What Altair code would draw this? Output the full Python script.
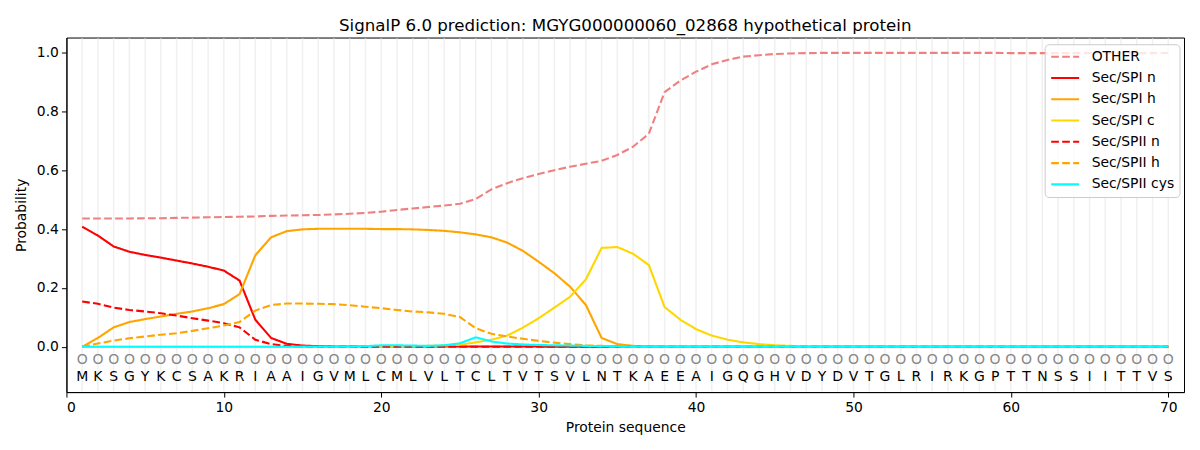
import altair as alt
import pandas as pd

sequence = list("MKSGYKCSAKRIAAIGVMLCMLVLTCLTVTSVLNTKAEEAIGQGHVDYDVTGLRIRKGPTTNSSIITTVS")
positions = list(range(1, 71))

other = [0.436, 0.436, 0.436, 0.436, 0.437, 0.437, 0.438, 0.439, 0.440, 0.441,
         0.442, 0.443, 0.445, 0.446, 0.447, 0.448, 0.450, 0.452, 0.455, 0.459,
         0.465, 0.470, 0.475, 0.480, 0.486, 0.502, 0.535, 0.556, 0.573, 0.587,
         0.600, 0.612, 0.622, 0.632, 0.652, 0.680, 0.724, 0.865, 0.905, 0.935,
         0.960, 0.975, 0.986, 0.991, 0.995, 0.997, 0.998, 0.999, 0.999, 0.999,
         0.999, 0.999, 0.999, 0.999, 0.999, 0.999, 0.999, 0.999, 0.999, 0.998,
         0.998, 0.998, 0.998, 0.998, 0.998, 0.998, 0.998, 0.998, 0.998, 0.999]
spi_n = [0.408, 0.378, 0.341, 0.323, 0.312, 0.303, 0.293, 0.283, 0.272, 0.259,
         0.225, 0.092, 0.030, 0.010, 0.004, 0.002, 0.001, 0.001, 0.001, 0.001,
         0.001, 0.001, 0.001, 0.001, 0.001, 0.001, 0.001, 0.001, 0.001, 0.001,
         0.000, 0.000, 0.000, 0.000, 0.000, 0.000, 0.000, 0.000, 0.000, 0.000,
         0.000, 0.000, 0.000, 0.000, 0.000, 0.000, 0.000, 0.000, 0.000, 0.000,
         0.000, 0.000, 0.000, 0.000, 0.000, 0.000, 0.000, 0.000, 0.000, 0.000,
         0.000, 0.000, 0.000, 0.000, 0.000, 0.000, 0.000, 0.000, 0.000, 0.000]
spi_h = [0.000, 0.030, 0.066, 0.084, 0.094, 0.103, 0.112, 0.120, 0.131, 0.145,
         0.179, 0.311, 0.372, 0.393, 0.399, 0.401, 0.401, 0.401, 0.401, 0.400,
         0.400, 0.399, 0.397, 0.394, 0.389, 0.382, 0.372, 0.354, 0.326, 0.289,
         0.250, 0.204, 0.142, 0.030, 0.009, 0.003, 0.001, 0.000, 0.000, 0.000,
         0.000, 0.000, 0.000, 0.000, 0.000, 0.000, 0.000, 0.000, 0.000, 0.000,
         0.000, 0.000, 0.000, 0.000, 0.000, 0.000, 0.000, 0.000, 0.000, 0.000,
         0.000, 0.000, 0.000, 0.000, 0.000, 0.000, 0.000, 0.000, 0.000, 0.000]
spi_c = [0.000, 0.000, 0.000, 0.000, 0.000, 0.000, 0.000, 0.000, 0.000, 0.000,
         0.000, 0.000, 0.000, 0.000, 0.000, 0.000, 0.000, 0.000, 0.000, 0.000,
         0.001, 0.002, 0.003, 0.004, 0.007, 0.015, 0.024, 0.038, 0.065, 0.097,
         0.133, 0.170, 0.229, 0.336, 0.339, 0.316, 0.278, 0.135, 0.092, 0.060,
         0.038, 0.024, 0.015, 0.009, 0.005, 0.003, 0.002, 0.001, 0.000, 0.000,
         0.000, 0.000, 0.000, 0.000, 0.000, 0.000, 0.000, 0.000, 0.000, 0.000,
         0.000, 0.000, 0.000, 0.000, 0.000, 0.000, 0.000, 0.000, 0.000, 0.000]
spii_n = [0.154, 0.146, 0.133, 0.125, 0.120, 0.114, 0.106, 0.097, 0.089, 0.080,
          0.066, 0.024, 0.009, 0.003, 0.001, 0.000, 0.000, 0.000, 0.000, 0.000,
          0.000, 0.000, 0.000, 0.000, 0.000, 0.000, 0.000, 0.000, 0.000, 0.000,
          0.000, 0.000, 0.000, 0.000, 0.000, 0.000, 0.000, 0.000, 0.000, 0.000,
          0.000, 0.000, 0.000, 0.000, 0.000, 0.000, 0.000, 0.000, 0.000, 0.000,
          0.000, 0.000, 0.000, 0.000, 0.000, 0.000, 0.000, 0.000, 0.000, 0.000,
          0.000, 0.000, 0.000, 0.000, 0.000, 0.000, 0.000, 0.000, 0.000, 0.000]
spii_h = [0.000, 0.011, 0.021, 0.029, 0.035, 0.041, 0.046, 0.054, 0.063, 0.072,
          0.084, 0.123, 0.142, 0.147, 0.147, 0.146, 0.145, 0.141, 0.136, 0.131,
          0.125, 0.120, 0.117, 0.112, 0.101, 0.063, 0.044, 0.035, 0.027, 0.020,
          0.014, 0.009, 0.005, 0.003, 0.001, 0.000, 0.000, 0.000, 0.000, 0.000,
          0.000, 0.000, 0.000, 0.000, 0.000, 0.000, 0.000, 0.000, 0.000, 0.000,
          0.000, 0.000, 0.000, 0.000, 0.000, 0.000, 0.000, 0.000, 0.000, 0.000,
          0.000, 0.000, 0.000, 0.000, 0.000, 0.000, 0.000, 0.000, 0.000, 0.000]
spii_cys = [0.000, 0.000, 0.000, 0.000, 0.000, 0.000, 0.000, 0.000, 0.000, 0.000,
            0.000, 0.000, 0.000, 0.000, 0.000, 0.000, 0.000, 0.000, 0.002, 0.005,
            0.005, 0.004, 0.003, 0.005, 0.012, 0.032, 0.018, 0.011, 0.008, 0.006,
            0.005, 0.004, 0.003, 0.002, 0.001, 0.000, 0.000, 0.000, 0.000, 0.000,
            0.000, 0.000, 0.000, 0.000, 0.000, 0.000, 0.000, 0.000, 0.000, 0.000,
            0.000, 0.000, 0.000, 0.000, 0.000, 0.000, 0.000, 0.000, 0.000, 0.000,
            0.000, 0.000, 0.000, 0.000, 0.000, 0.000, 0.000, 0.000, 0.000, 0.000]

series_names = ["OTHER", "Sec/SPI n", "Sec/SPI h", "Sec/SPI c",
                "Sec/SPII n", "Sec/SPII h", "Sec/SPII cys"]
series_values = [other, spi_n, spi_h, spi_c, spii_n, spii_h, spii_cys]
series_colors = ["#f08080", "#ff0000", "#ffa500", "#ffd700",
                 "#ff0000", "#ffa500", "#00ffff"]
series_dashes = [[7.7, 3.3], [1, 0], [1, 0], [1, 0], [7.7, 3.3], [7.7, 3.3], [1, 0]]

rows = []
for k, (name, vals) in enumerate(zip(series_names, series_values)):
    for p, v in zip(positions, vals):
        rows.append({"pos": p, "prob": v, "series": name, "order": k})
df = pd.DataFrame(rows)
seq_df = pd.DataFrame({"pos": positions, "aa": sequence, "circ": ["O"] * len(positions)})

FONT = "DejaVu Sans"
W, H = 1119, 355
Y_LO, Y_HI = -0.154, 1.051

xscale = alt.Scale(domain=[0, 71], nice=False, zero=False)
yscale = alt.Scale(domain=[Y_LO, Y_HI], nice=False, zero=False)

grid = alt.Chart(seq_df).mark_rule(color="#f0f0f0", strokeWidth=1.5).encode(
    x=alt.X("pos:Q", scale=xscale,
            axis=alt.Axis(values=[0, 10, 20, 30, 40, 50, 60, 70], title="Protein sequence")),
    y=alt.datum(Y_LO + 0.003, scale=yscale),
    y2=alt.datum(Y_HI - 0.003),
)

lines = alt.Chart(df).mark_line(strokeWidth=2.1, clip=True).encode(
    x=alt.X("pos:Q", scale=xscale),
    y=alt.Y("prob:Q", scale=yscale,
            axis=alt.Axis(values=[0, 0.2, 0.4, 0.6, 0.8, 1.0], format=".1f", title="Probability")),
    color=alt.Color("series:N", scale=alt.Scale(domain=series_names, range=series_colors),
                    sort=series_names, title=None),
    strokeDash=alt.StrokeDash("series:N", scale=alt.Scale(domain=series_names, range=series_dashes),
                              sort=series_names, title=None),
    order=alt.Order("order:Q"),
)

circles = alt.Chart(seq_df).mark_text(font=FONT, fontSize=14, color="#888888").encode(
    x=alt.X("pos:Q", scale=xscale), y=alt.datum(-0.045), text="circ:N"
)
letters = alt.Chart(seq_df).mark_text(font=FONT, fontSize=14, color="black").encode(
    x=alt.X("pos:Q", scale=xscale), y=alt.datum(-0.102), text="aa:N"
)

chart = alt.layer(grid, lines, circles, letters).properties(
    width=W, height=H,
    title=alt.TitleParams("SignalP 6.0 prediction: MGYG000000060_02868 hypothetical protein",
                          font=FONT, fontSize=16.7, fontWeight="normal", color="black",
                          anchor="middle", offset=3),
    autosize=alt.AutoSizeParams(type="none"),
    padding={"left": 58.5, "top": 29.3, "right": 8, "bottom": 50},
).configure_view(stroke="black", strokeWidth=1).configure_axis(
    grid=False, domainColor="black", tickColor="black", tickSize=5,
    labelFont=FONT, labelFontSize=13.9, labelColor="black",
    titleFont=FONT, titleFontSize=13.9, titleColor="black", titleFontWeight="normal",
    labelPadding=3,
).configure_axisX(titlePadding=7).configure_axisY(titlePadding=8).configure_legend(
    orient="none", legendX=979.5, legendY=6.7,
    fillColor="rgba(255,255,255,0.8)", strokeColor="#cccccc", cornerRadius=4,
    padding=5, rowPadding=6.3, labelFont=FONT, labelFontSize=13.9, labelColor="black",
    symbolType="M-1,0L3.67,0", symbolSize=144, symbolStrokeWidth=2.1, labelOffset=27,
)

chart.save("out.html", embed_options={"renderer": "svg", "actions": False})
